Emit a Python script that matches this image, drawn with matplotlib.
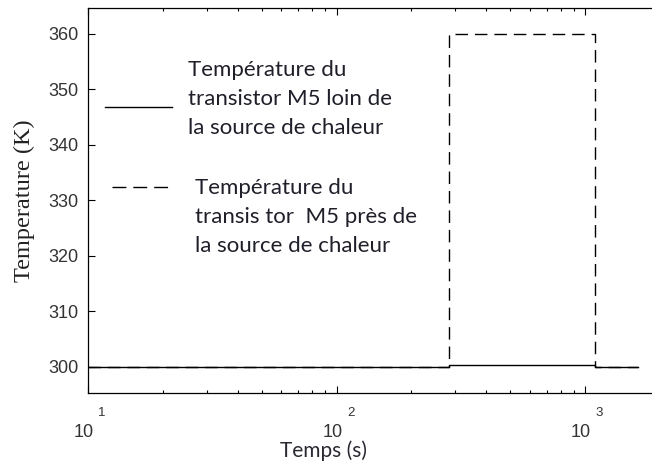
import matplotlib.pyplot as plt
from matplotlib.lines import Line2D

# data
temps = [10, 284, 284, 1097, 1097, 1633]
temp_loin = [300, 300, 300.25, 300.25, 300, 300]
temp_pres = [300, 300, 360, 360, 300, 300]

yticks = [300, 310, 320, 330, 340, 350, 360]
xdecades = [10, 100, 1000]
exposants = ["1", "2", "3"]

label_loin = "Température du\ntransistor M5 loin de\nla source de chaleur"
label_pres = "Température du\ntransis tor  M5 près de\nla source de chaleur"

W, H = 652, 465
fig = plt.figure(figsize=(W / 100, H / 100), dpi=100)

# axes box in pixels (right edge runs off the picture, as in the reference)
x0, x1, ytop, ybot = 88, 700, 8.3, 392.7
ax = fig.add_axes([x0 / W, 1 - ybot / H, (x1 - x0) / W, (ybot - ytop) / H])


def fx(px):
    return (px - x0) / (x1 - x0)


def fy(py):
    return (ybot - py) / (ybot - ytop)


ax.plot(temps, temp_pres, color="black", lw=1.0, dashes=(9, 5))
ax.plot(temps, temp_loin, color="black", lw=1.0)

ax.set_xscale("log")
ax.set_xlim(10, 10 ** (1 + (x1 - x0) / 248.5))
ax.set_ylim(295.3, 364.6)

for s in ax.spines.values():
    s.set_linewidth(0.9)

tick_font = dict(family="Liberation Sans", color="#333333")
ax.set_yticks(yticks)
ax.set_yticklabels([str(v) for v in yticks], fontsize=13, **tick_font)
ax.tick_params(axis="y", which="both", direction="in", length=5, width=0.8,
               right=False, pad=7)
ax.tick_params(axis="x", which="major", direction="in", length=5, width=0.8,
               top=True, labelbottom=False)
ax.tick_params(axis="x", which="minor", direction="in", length=2.5, width=0.8,
               top=True)

# old style decade labels: "10" below, exponent raised to the right
tr = ax.get_xaxis_transform()
for d, e in zip(xdecades, exposants):
    ax.text(d * 0.965, fy(432), "10", transform=tr, ha="center", va="center",
            fontsize=13, **tick_font)
    ax.text(d * 1.14, fy(413), e, transform=tr, ha="center", va="center",
            fontsize=9.5, **tick_font)

ax.set_ylabel("Temperature (K)", family="Liberation Serif", fontsize=17.5,
              color="#222222")
ax.yaxis.label.set_verticalalignment("center")
ax.yaxis.set_label_coords(fx(24), 0.5)
ax.text(fx(324), fy(451), "Temps (s)", transform=ax.transAxes, ha="center",
        va="center", fontsize=15, family="Lato", color="#2a2a33")

# legend keys and texts
ax.add_line(Line2D([fx(105), fx(172)], [fy(107), fy(107)], color="black",
                   lw=1.0, transform=ax.transAxes))
ax.add_line(Line2D([fx(112), fx(172)], [fy(187.5), fy(187.5)], color="black",
                   lw=1.0, dashes=(10, 5), transform=ax.transAxes))
ax.text(fx(188), fy(99), label_loin, transform=ax.transAxes, ha="left",
        va="center", fontsize=16, family="Lato", color="#1f1f2a",
        linespacing=1.55)
ax.text(fx(195), fy(217), label_pres, transform=ax.transAxes, ha="left",
        va="center", fontsize=16, family="Lato", color="#1f1f2a",
        linespacing=1.55)

fig.savefig("out.png", dpi=100)
